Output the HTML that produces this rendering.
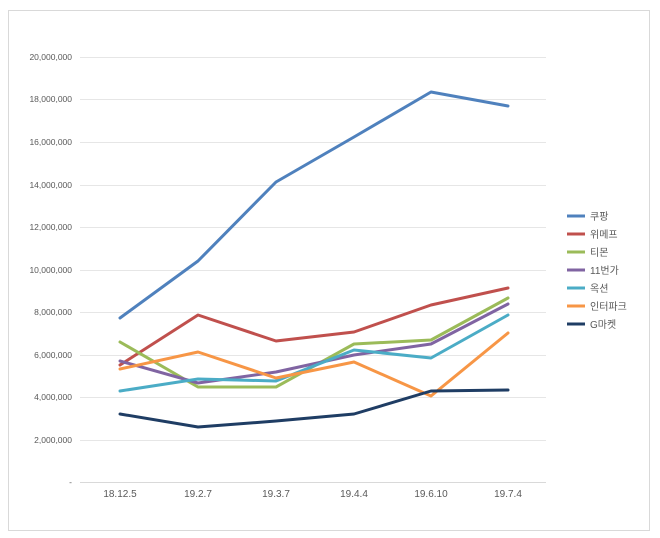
<!DOCTYPE html>
<html><head><meta charset="utf-8"><style>
body{margin:0;background:#fff;}
svg{display:block;font-family:"Liberation Sans","Noto Sans CJK KR",sans-serif;}
</style></head><body>
<svg width="660" height="538" viewBox="0 0 660 538">
<rect x="0" y="0" width="660" height="538" fill="#fff"/>
<rect x="8.5" y="10.5" width="641" height="520" fill="#fff" stroke="#d9d9d9"/>
<g stroke="#e6e6e6" stroke-width="1">
<line x1="80" x2="546" y1="57.5" y2="57.5"/><line x1="80" x2="546" y1="99.5" y2="99.5"/>
<line x1="80" x2="546" y1="142.5" y2="142.5"/><line x1="80" x2="546" y1="185.5" y2="185.5"/>
<line x1="80" x2="546" y1="227.5" y2="227.5"/><line x1="80" x2="546" y1="270.5" y2="270.5"/>
<line x1="80" x2="546" y1="312.5" y2="312.5"/><line x1="80" x2="546" y1="355.5" y2="355.5"/>
<line x1="80" x2="546" y1="397.5" y2="397.5"/><line x1="80" x2="546" y1="440.5" y2="440.5"/>
<line x1="80" x2="546" y1="482.5" y2="482.5" stroke="#d9d9d9"/>
</g>
<g font-size="8.5" fill="#595959" text-anchor="end">
<text x="72" y="60">20,000,000</text><text x="72" y="102">18,000,000</text>
<text x="72" y="145">16,000,000</text><text x="72" y="188">14,000,000</text>
<text x="72" y="230">12,000,000</text><text x="72" y="273">10,000,000</text>
<text x="72" y="315">8,000,000</text><text x="72" y="358">6,000,000</text>
<text x="72" y="400">4,000,000</text><text x="72" y="443">2,000,000</text>
<text x="72" y="485">-</text>
</g>
<g font-size="10" fill="#595959" text-anchor="middle">
<text x="120" y="497">18.12.5</text><text x="198" y="497">19.2.7</text>
<text x="276" y="497">19.3.7</text><text x="354" y="497">19.4.4</text>
<text x="431" y="497">19.6.10</text><text x="508" y="497">19.7.4</text>
</g>
<g fill="none" stroke-width="3" stroke-linejoin="round" stroke-linecap="round">
<polyline stroke="#4f81bd" points="120,318 198,261 276,182 354,137 431,92 508,106"/>
<polyline stroke="#c0504d" points="120,365 198,315 276,341 354,332 431,305 508,288"/>
<polyline stroke="#9bbb59" points="120,342 198,387 276,387 354,344 431,340 508,298"/>
<polyline stroke="#8064a2" points="120,361 198,383 276,372 354,355 431,344 508,304"/>
<polyline stroke="#4bacc6" points="120,391 198,379 276,381 354,350 431,358 508,315"/>
<polyline stroke="#f79646" points="120,369 198,352 276,378 354,362 431,396 508,333"/>
<polyline stroke="#1f3d64" points="120,414 198,427 276,421 354,414 431,391 508,390"/>
</g>
<g stroke-width="3">
<line x1="567" x2="585" y1="216" y2="216" stroke="#4f81bd"/>
<line x1="567" x2="585" y1="234" y2="234" stroke="#c0504d"/>
<line x1="567" x2="585" y1="252" y2="252" stroke="#9bbb59"/>
<line x1="567" x2="585" y1="270" y2="270" stroke="#8064a2"/>
<line x1="567" x2="585" y1="288" y2="288" stroke="#4bacc6"/>
<line x1="567" x2="585" y1="306" y2="306" stroke="#f79646"/>
<line x1="567" x2="585" y1="324" y2="324" stroke="#1f3d64"/>
</g>
<g font-size="10" fill="#595959">
<text x="590" y="220">쿠팡</text><text x="590" y="238">위메프</text>
<text x="590" y="256">티몬</text><text x="590" y="274">11번가</text>
<text x="590" y="292">옥션</text><text x="590" y="310">인터파크</text>
<text x="590" y="328">G마켓</text>
</g>
</svg>
</body></html>
